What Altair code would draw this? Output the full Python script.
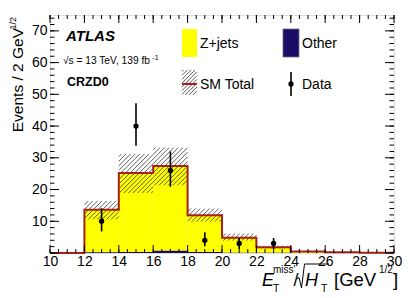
import altair as alt
import pandas as pd

# ---------------- data ----------------
bin_lo = [10, 12, 14, 16, 18, 20, 22, 24, 26, 28]
bin_hi = [12, 14, 16, 18, 20, 22, 24, 26, 28, 30]
zjets = [0.0, 13.4, 24.9, 26.7, 11.6, 4.7, 1.75, 0.48, 0.19, 0.10]
other = [0.0, 0.2, 0.3, 0.7, 0.3, 0.1, 0.05, 0.02, 0.01, 0.0]
unc_lo = [0.0, 10.6, 18.9, 21.3, 9.9, 3.9, 1.4, 0.30, 0.10, 0.05]
unc_hi = [0.0, 16.4, 31.2, 33.2, 14.0, 6.1, 2.3, 0.70, 0.30, 0.15]

data_x = [13, 15, 17, 19, 21, 23]
data_y = [10, 40, 26, 4, 3, 3]
data_lo = [6.8, 33.8, 20.9, 2.1, 1.27, 1.27]
data_hi = [14.1, 47.2, 32.0, 6.5, 4.73, 4.73]

x_labels = [10, 12, 14, 16, 18, 20, 22, 24, 26, 28, 30]
y_labels = [10, 20, 30, 40, 50, 60, 70]
x_major = [10, 12, 14, 16, 18, 20, 22, 24, 26, 28, 30]
x_minor = [10 + 0.5 * i for i in range(41)]
y_major = [0, 10, 20, 30, 40, 50, 60, 70]
y_minor = [2 * i for i in range(38)]

# ---------------- geometry / style ----------------
W, H = 344, 238
XMIN, XMAX, YMAX = 10, 30, 75
SX = W / (XMAX - XMIN)
SY = H / YMAX
FONT = "Liberation Sans"
YELLOW = "#ffff00"
NAVY = "#1b0c66"
RED = "#a8201a"
HATCH = "#333333"

xs = alt.Scale(domain=[XMIN, XMAX], nice=False, zero=False)
ys = alt.Scale(domain=[0, YMAX], nice=False, zero=False)
x_axis = alt.Axis(values=x_labels, ticks=False, domain=False, grid=False,
                  labelFontSize=14, labelFont=FONT, labelColor="black",
                  labelPadding=1, labelFlush=False, title=None)
y_axis = alt.Axis(values=y_labels, ticks=False, domain=False, grid=False,
                  labelFontSize=14, labelFont=FONT, labelColor="black",
                  labelPadding=3, title=None)


def X(field):
    return alt.X(field, type="quantitative", scale=xs, axis=x_axis)


def Y(field):
    return alt.Y(field, type="quantitative", scale=ys, axis=y_axis)


bins = pd.DataFrame({"lo": bin_lo, "hi": bin_hi, "zj": zjets, "ot": other,
                     "ulo": unc_lo, "uhi": unc_hi})
bins["zero"] = 0.0
bins["tot"] = bins["zj"] + bins["ot"]

yellow = alt.Chart(bins).mark_rect(color=YELLOW, strokeWidth=0).encode(
    x=X("lo"), x2="hi", y=Y("ot"), y2="tot")
navy = alt.Chart(bins).mark_rect(color=NAVY, strokeWidth=0).encode(
    x=X("lo"), x2="hi", y=Y("zero"), y2="ot")


# hatch segments ("///") clipped to each uncertainty box, computed in pixel space
def hatch(boxes, step=4.0):
    rows = []
    for (x0, x1, y0, y1) in boxes:
        if y1 <= y0:
            continue
        u0, u1 = (x0 - XMIN) * SX, (x1 - XMIN) * SX
        v0, v1 = y0 * SY, y1 * SY
        k = int((u0 - v1) // step) - 1
        while k * step <= u1 - v0:
            c = k * step
            us = max(u0, v0 + c)
            ue = min(u1, v1 + c)
            if ue - us > 0.3:
                rows.append({"hx": XMIN + us / SX, "hy": (us - c) / SY,
                             "hx2": XMIN + ue / SX, "hy2": (ue - c) / SY})
            k += 1
    return pd.DataFrame(rows)


hdf = hatch(list(zip(bin_lo, bin_hi, unc_lo, unc_hi)), step=4.6)
hatch_layer = alt.Chart(hdf).mark_rule(color=HATCH, strokeWidth=0.8).encode(
    x=X("hx"), x2="hx2", y=Y("hy"), y2="hy2")

# legend hatch box (pixel box converted to data coords)
LBX0, LBX1, LBY0, LBY1 = 132, 147, 55, 80
ldf = hatch([(XMIN + LBX0 / SX, XMIN + LBX1 / SX, (H - LBY1) / SY, (H - LBY0) / SY)], step=3.8)
leg_hatch = alt.Chart(ldf).mark_rule(color=HATCH, strokeWidth=0.8).encode(
    x=X("hx"), x2="hx2", y=Y("hy"), y2="hy2")

step_df = pd.DataFrame({"ex": bin_lo + [bin_hi[-1]],
                        "ey": list(bins["tot"]) + [float(bins["tot"].iloc[-1])]})
red_line = alt.Chart(step_df).mark_line(color=RED, strokeWidth=2,
                                        interpolate="step-after").encode(
    x=X("ex"), y=Y("ey"))

pts = pd.DataFrame({"dx": data_x, "dy": data_y, "dlo": data_lo, "dhi": data_hi})
err = alt.Chart(pts).mark_rule(color="black", strokeWidth=1.6).encode(
    x=X("dx"), y=Y("dlo"), y2="dhi")
dots = alt.Chart(pts).mark_circle(color="black", opacity=1, size=28).encode(
    x=X("dx"), y=Y("dy"))


# ---------------- inward ticks on all four sides ----------------
def xticks(vals, length):
    d = pd.DataFrame({"t": vals})
    b = alt.Chart(d).mark_rule(color="black", strokeWidth=1).encode(
        x=X("t"), y=alt.value(H), y2=alt.value(H - length))
    t = alt.Chart(d).mark_rule(color="black", strokeWidth=1).encode(
        x=X("t"), y=alt.value(0), y2=alt.value(length))
    return [b, t]


def yticks(vals, length):
    d = pd.DataFrame({"t": vals})
    l = alt.Chart(d).mark_rule(color="black", strokeWidth=1).encode(
        y=Y("t"), x=alt.value(0), x2=alt.value(length))
    r = alt.Chart(d).mark_rule(color="black", strokeWidth=1).encode(
        y=Y("t"), x=alt.value(W - length), x2=alt.value(W))
    return [l, r]


ticks = xticks(x_major, 8) + xticks(x_minor, 4) + yticks(y_major, 9) + yticks(y_minor, 4.5)

# ---------------- text ----------------
one = pd.DataFrame({"a": [0]})
OX, OY = 50, 15  # screen position of plot origin


def txt(s, sx, sy, size, align="left", baseline="alphabetic", angle=0,
        weight="normal", style="normal"):
    return alt.Chart(one).mark_text(
        text=s, font=FONT, fontSize=size, align=align, baseline=baseline,
        angle=angle, fontWeight=weight, fontStyle=style, color="black").encode(
        x=alt.value(sx - OX), y=alt.value(sy - OY))


def seg(x1, y1, x2, y2, w=1.0):
    return alt.Chart(one).mark_rule(color="black", strokeWidth=w).encode(
        x=alt.value(x1 - OX), y=alt.value(y1 - OY),
        x2=alt.value(x2 - OX), y2=alt.value(y2 - OY))


texts = [
    txt("ATLAS", 66, 41, 15, weight="bold", style="italic"),
    txt("\u221as = 13 TeV, 139 fb", 63, 64, 10.2),
    txt("-1", 152.5, 60, 7),
    txt("CRZD0", 67, 86, 12.5, weight="bold"),
    # legend
    txt("Z+jets", 200, 48, 14),
    txt("Other", 302, 48, 14),
    txt("SM Total", 200, 89, 14),
    txt("Data", 302, 89, 14),
    # y title
    txt("Events / 2 GeV", 23, 28, 15.5, align="right", angle=270),
    txt("1/2", 16, 17, 9, align="right", angle=270),
    # x title
    txt("E", 262, 286, 18, style="italic"),
    txt("T", 273, 292, 10.5),
    txt("miss'", 273, 272.5, 10),
    txt("/", 293.5, 286, 18),
    txt("H", 305, 286, 18, style="italic"),
    txt("T", 321, 292, 10.5),
    txt("[GeV", 334, 286, 18.5),
    txt("1/2", 379, 272.5, 10),
    txt("]", 393, 286, 18.5),
]

# radical sign of the sqrt in the x title
radical = [
    seg(296.5, 279, 299, 277.5),
    seg(299, 277.5, 301.5, 288),
    seg(301.5, 288, 304.5, 264),
    seg(304.5, 264, 329, 264),
]

leg_yellow = alt.Chart(one).mark_rect(color=YELLOW).encode(
    x=alt.value(132), x2=alt.value(147), y=alt.value(14), y2=alt.value(42))
leg_navy = alt.Chart(one).mark_rect(color=NAVY, stroke="#6a6a8a", strokeWidth=0.8).encode(
    x=alt.value(233), x2=alt.value(249), y=alt.value(14), y2=alt.value(42))
leg_red = alt.Chart(one).mark_rule(color=RED, strokeWidth=2).encode(
    x=alt.value(132), x2=alt.value(147), y=alt.value(69))
leg_err = alt.Chart(one).mark_rule(color="black", strokeWidth=1.6).encode(
    x=alt.value(241), y=alt.value(57), y2=alt.value(81))
leg_dot = alt.Chart(one).mark_circle(color="black", opacity=1, size=28).encode(
    x=alt.value(241), y=alt.value(69))

chart = alt.layer(
    yellow, navy, hatch_layer, red_line, err, dots, *ticks,
    leg_yellow, leg_navy, leg_hatch, leg_red, leg_err, leg_dot, *radical, *texts
).properties(
    width=W, height=H,
    padding={"left": 42, "top": 7, "right": 13, "bottom": 44},
    autosize=alt.AutoSizeParams(type="none"),
).configure_view(stroke="black", strokeWidth=1).configure(background="white")

chart.save("out.html", embed_options={"renderer": "svg", "actions": False})
